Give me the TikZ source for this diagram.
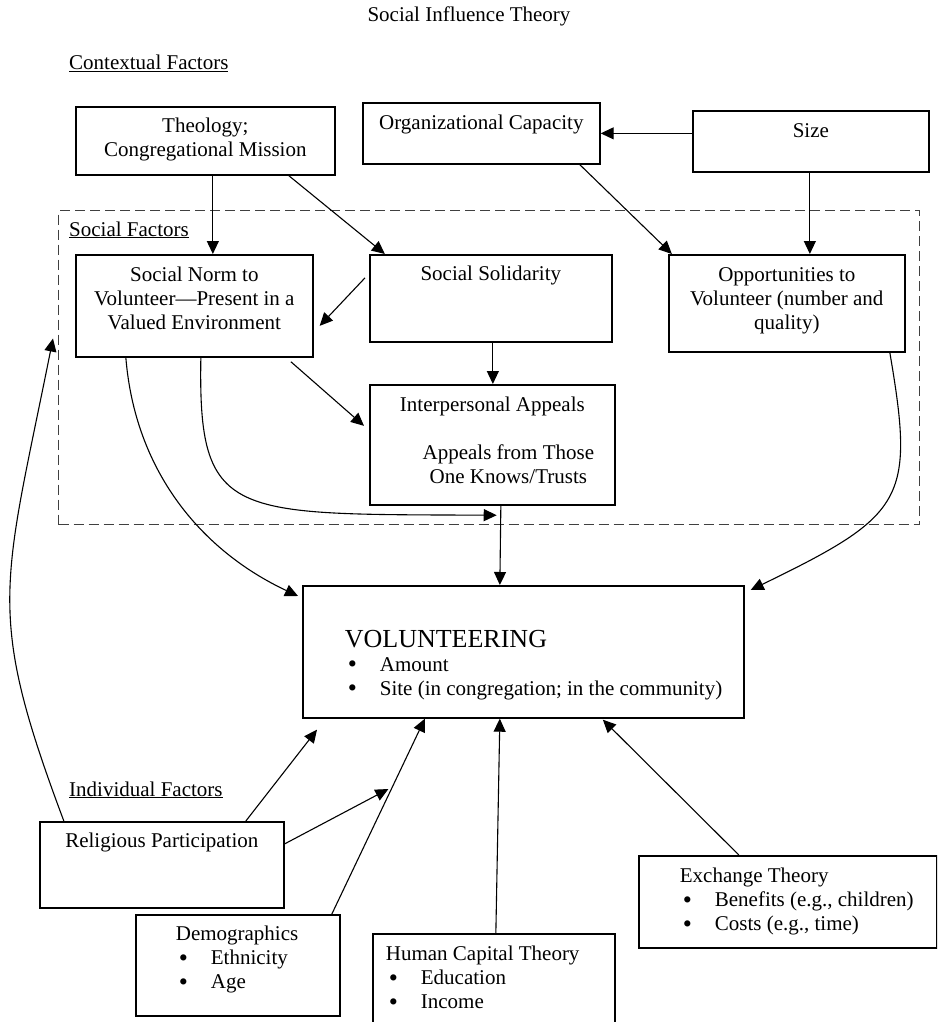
\documentclass[tikz,border=0pt]{standalone}
\usepackage{fontspec}
\setmainfont{Liberation Serif}
\usetikzlibrary{arrows.meta, positioning, calc}

% text held at the top of a box: width, height, top gap, text
\newcommand{\cell}[4]{\parbox[t][#2pt][t]{#1pt}{\vspace*{#3pt}\centering #4}}
% same, left aligned with a left margin
\newcommand{\lcell}[5]{\parbox[t][#2pt][t]{#1pt}{\vspace*{#3pt}\raggedright\leftskip=#4pt\relax #5}}
\newcommand{\itm}[1]{\\\hspace*{3pt}\makebox[32pt][l]{\smash{\raisebox{-1.5pt}{\fontsize{26}{24}\selectfont\textbullet}}}#1}

\begin{document}
\begin{tikzpicture}[x=1pt, y=-1pt,
    every node/.style={font=\fontsize{21}{24}\selectfont, inner sep=0pt},
    box/.style={draw, line width=1.7pt, anchor=north west},
    heading/.style={anchor=base west},
    arr/.style={-{Triangle[length=13pt,width=12pt]}, line width=1.1pt}]
    \useasboundingbox (0,0) rectangle (937,1022);
    \clip (0,0) rectangle (937,1022);

    \node[anchor=base] (title) at (469,22) {Social Influence Theory};
    \node[heading] (context) at (69,70) {\underline{Contextual Factors}};

    % contextual factors
    \node[box] (theology) at (75,106) {\cell{259}{68}{9}{\strut Theology;\\Congregational Mission}};
    \node[box] (orgcap) at (362,102) {\cell{237}{61}{10}{\strut Organizational Capacity}};
    \node[box] (size) at (692,110) {\cell{236}{61}{10}{\strut Size}};

    % social factors
    \node[draw, dashed, dash pattern=on 10pt off 5pt, line width=1pt, black!75,
      minimum width=861pt, minimum height=314pt, anchor=north west] (social) at (58,210) {};
    \node[heading] (socfac) at (69,236) {\underline{Social Factors}};
    \node[box] (socnorm) at (75,254) {\cell{237}{102}{10}{\strut Social Norm to\\Volunteer---Present in a\\Valued Environment}};
    \node[box] (socsol) at (369,254) {\cell{242}{87}{9}{\strut Social Solidarity}};
    \node[box] (opp) at (668,254) {\cell{236}{97}{10}{\strut Opportunities to\\Volunteer (number and\\quality)}};
    \node[box] (interp) at (369,384) {\cell{245}{120}{10}{\strut Interpersonal Appeals\\[24pt]\hspace*{32pt}Appeals from Those\\\hspace*{32pt}One Knows/Trusts}};

    \node[box] (vol) at (302,585) {\lcell{441}{132}{44}{42}{{\fontsize{26}{24}\selectfont VOLUNTEERING}\itm{Amount}\itm{Site (in congregation; in the community)}}};

    % individual factors
    \node[heading] (indfac) at (69,796) {\underline{Individual Factors}};
    \node[box] (relig) at (39,821) {\cell{244}{86}{9}{\strut Religious Participation}};
    \node[box] (demo) at (135,914) {\lcell{204}{101}{9}{40}{\strut Demographics\itm{Ethnicity}\itm{Age}}};
    \node[box] (humcap) at (372,933) {\lcell{242}{110}{10}{13}{\strut Human Capital Theory\itm{Education}\itm{Income}}};
    \node[box] (exch) at (638,855) {\lcell{298}{92}{10}{41}{\strut Exchange Theory\itm{Benefits (e.g., children)}\itm{Costs (e.g., time)}}};

    % connectors
    \draw[arr] (size.west |- orgcap.east) -- (orgcap.east);
    \draw[arr] ([xshift=7.5pt]theology.south) -- ([xshift=18.5pt]socnorm.north);
    \draw[arr] ([xshift=83.5pt]theology.south) -- ([xshift=-106pt]socsol.north);
    \draw[arr] ([xshift=98.5pt]orgcap.south) -- ([xshift=-115pt]opp.north);
    \draw[arr] ([xshift=-1pt]size.south) -- ([xshift=23pt]opp.north);
    \draw[arr] ([xshift=-4pt,yshift=20.5pt]socsol.west) -- ([xshift=6pt,yshift=-20pt]socnorm.east);
    \draw[arr] ([xshift=2pt]socsol.south) -- ([xshift=0.5pt]interp.north);
    \draw[arr] ([xshift=96.5pt,yshift=-4pt]socnorm.south) -- ([xshift=-5pt,yshift=19pt]interp.west);
    \draw[arr] ([xshift=8.5pt]interp.south) -- coordinate[pos=0.12] (ivmid) ([xshift=-23.5pt]vol.north);
    \draw[arr] ([xshift=-68.5pt]socnorm.south) .. controls (135,470) and (200,550) .. ([xshift=-4pt,yshift=-11pt]vol.north west);
    \draw[arr] ([xshift=6.5pt]socnorm.south) .. controls (198,520) and (230,514) .. ([xshift=-4pt]ivmid);
    \draw[arr] ([xshift=103pt]opp.south) .. controls (915,500) and (905,515) .. ([xshift=6pt,yshift=-5pt]vol.north east);

    \draw[arr] ([xshift=-98pt]relig.north) .. controls (-15,611) and (3,588) .. ([xshift=-5pt,yshift=29pt]social.west);
    \draw[arr] ([xshift=84pt]relig.north) -- ([xshift=15pt,yshift=-11pt]vol.south west);
    \draw[arr] ([xshift=94pt]demo.north) -- coordinate[pos=0.64] (dmod) ([xshift=-98.5pt]vol.south);
    \draw[arr] ([yshift=21pt]relig.east) -- ([xshift=-3pt]dmod);
    \draw[arr] ([xshift=2pt]humcap.north) -- ([xshift=-23.5pt]vol.south);
    \draw[arr] ([xshift=-49pt]exch.north) -- ([xshift=79.5pt,yshift=-1pt]vol.south);
\end{tikzpicture}
\end{document}
